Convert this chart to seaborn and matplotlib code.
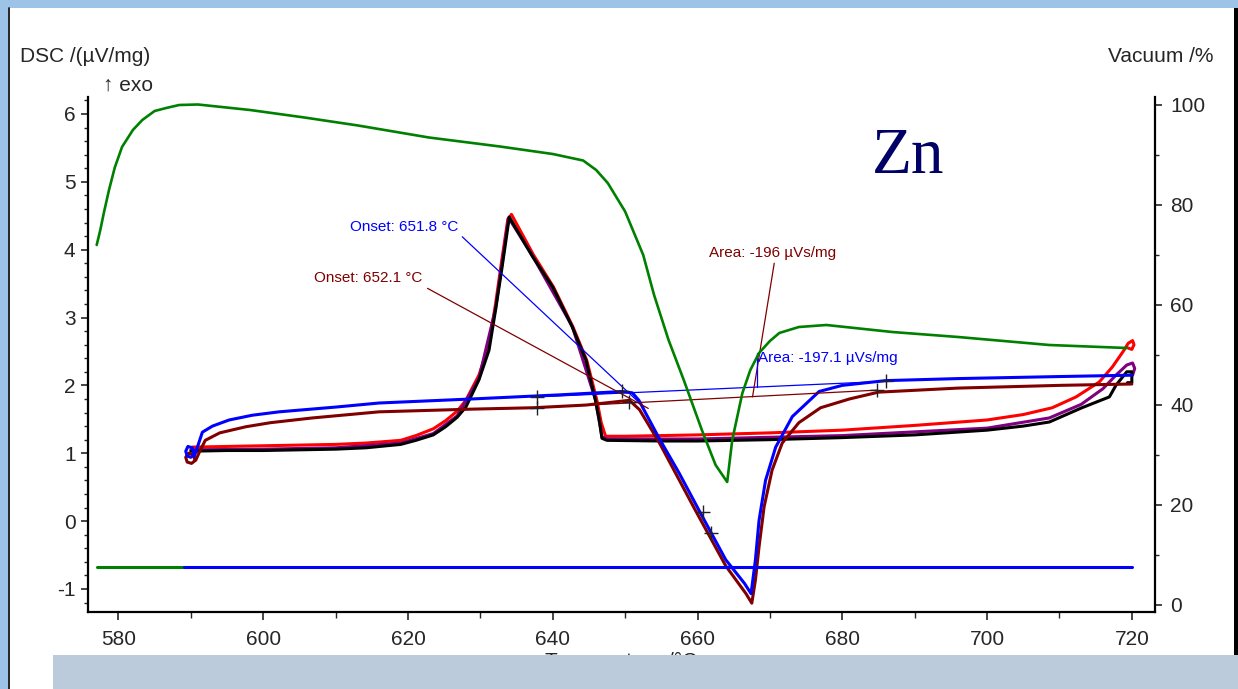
import numpy as np
import pandas as pd
import matplotlib
matplotlib.use('Agg')
import matplotlib.pyplot as plt
import seaborn as sns
from matplotlib.patches import Rectangle
from matplotlib.lines import Line2D
from matplotlib.ticker import MultipleLocator

# --- DSC curves (temperature in degC, DSC in uV/mg) ---
red_t = [590.2, 595, 600, 605, 610, 614.2, 619, 621.1, 623.5, 625.2, 626.8, 628.0, 629.8, 631.2,
         632.1, 632.9, 633.8, 634.3, 637.3, 640.1, 642.8, 644.7, 646.1, 646.7, 647.3, 650, 655,
         660, 670, 680, 690, 700, 705, 709, 712.3, 715.5, 717.3, 718.8, 719.5, 720.1, 720.3,
         720.0, 719.5]
red_v = [1.09, 1.10, 1.11, 1.12, 1.13, 1.15, 1.19, 1.26, 1.36, 1.48, 1.62, 1.78, 2.15, 2.60,
         3.20, 3.80, 4.45, 4.52, 3.93, 3.45, 2.86, 2.37, 1.78, 1.45, 1.25, 1.25, 1.26,
         1.27, 1.30, 1.34, 1.41, 1.49, 1.57, 1.67, 1.83, 2.05, 2.27, 2.50, 2.62, 2.66, 2.60,
         2.53, 2.55]

prp_t = [590.0, 600, 610, 619, 623.5, 626.8, 629.8, 632.1, 633.9, 637.2, 642.7, 645.9, 646.8,
         647.5, 660, 680, 700, 708.6, 713, 716, 717.8, 719.3, 720.1, 720.4, 720.1]
prp_v = [1.05, 1.06, 1.08, 1.15, 1.29, 1.55, 2.10, 3.13, 4.47, 3.91, 2.87, 1.79, 1.24,
         1.21, 1.21, 1.26, 1.37, 1.52, 1.72, 1.95, 2.15, 2.30, 2.33, 2.25, 2.15]

blk_t = [590.0, 595, 600, 605, 610, 614.2, 619, 621.1, 623.5, 625.2, 626.8, 628.0, 629.8, 631.2,
         632.1, 633.0, 634.0, 637.2, 640.0, 642.7, 644.6, 645.9, 646.5, 646.8, 647.5, 655, 660,
         670, 680, 690, 700, 705, 708.6, 713.1, 716.9, 717.8, 719.3, 720.0, 720.0, 719.4]
blk_v = [1.03, 1.04, 1.04, 1.05, 1.06, 1.08, 1.13, 1.19, 1.27, 1.39, 1.53, 1.68, 2.08, 2.52,
         3.11, 3.74, 4.48, 3.90, 3.45, 2.86, 2.37, 1.78, 1.45, 1.22, 1.19, 1.18, 1.18,
         1.20, 1.23, 1.27, 1.34, 1.40, 1.46, 1.67, 1.83, 2.00, 2.20, 2.20, 2.04, 2.04]

mrn_t = [590.6, 590.3, 589.7, 589.3, 589.5, 590.1, 590.7, 591.2, 592.0, 594.0, 597.6, 601, 606.8,
         616, 628.9, 637.2, 644.6, 650.6, 652.0, 654.7, 659.6, 663.9, 666.7, 667.5, 668.0, 668.5,
         669.2, 670.3, 671.7, 674.0, 677.0, 681, 685, 696, 710, 720]
mrn_v = [0.90, 0.98, 1.00, 0.94, 0.87, 0.85, 0.90, 1.02, 1.19, 1.30, 1.39, 1.45, 1.52,
         1.61, 1.65, 1.67, 1.71, 1.78, 1.64, 1.16, 0.18, -0.66, -1.07, -1.21, -0.87, -0.38,
         0.21, 0.75, 1.15, 1.45, 1.67, 1.80, 1.90, 1.96, 2.00, 2.02]

blu_t = [590.5, 590.2, 589.6, 589.3, 589.5, 590.0, 590.6, 591.1, 591.6, 593.0, 595.3, 598.5,
         602.2, 610, 616, 628.9, 640.9, 649.6, 651.0, 651.9, 654.7, 657.5, 660.2, 663.9, 666.5,
         667.4, 668.0, 668.5, 669.4, 670.8, 673.1, 676.8, 680, 686, 696, 710, 720]
blu_v = [0.96, 1.08, 1.10, 1.03, 0.96, 0.94, 0.99, 1.15, 1.31, 1.40, 1.49, 1.56,
         1.61, 1.68, 1.74, 1.80, 1.86, 1.91, 1.89, 1.78, 1.22, 0.70, 0.16, -0.57, -0.92,
         -1.07, -0.57, 0.01, 0.60, 1.09, 1.54, 1.91, 2.00, 2.07, 2.10, 2.13, 2.15]

# flat reference line near the bottom
flat_green_t = [577, 589]
flat_blue_t = [589, 720]
flat_level = -0.68

# --- Vacuum (%) ---
vac_t = [577.0, 577.5, 578.0, 578.7, 579.5, 580.5, 582, 583.3, 585, 586.6, 588.4, 591, 592.3,
         598.2, 605.7, 613.1, 622.9, 632.7, 640, 644.2, 646, 647.6, 650.0, 652.5, 654.0, 656,
         658.1, 660.6, 662.5, 664.1, 664.8, 666.2, 667.3, 668.5, 670, 671.3, 674.0, 677.8,
         686.9, 696.0, 708.6, 719.3]
vac_v = [72, 75, 78.5, 83, 87.5, 91.6, 95, 97, 98.8, 99.4, 100, 100.1, 99.9,
         99.0, 97.5, 95.9, 93.5, 91.7, 90.2, 88.9, 87, 84.4, 78.7, 70, 62, 53,
         45, 35, 28, 24.6, 33, 42.4, 47, 50.4, 52.8, 54.4, 55.6, 56,
         54.6, 53.6, 52, 51.4]

# --- evaluation marks ---
blu_mark_t = [637.8, 649.6, 660.7, 686.0]
blu_mark_v = [1.83, 1.92, 0.14, 2.06]
mrn_mark_t = [637.8, 650.6, 661.8, 684.8]
mrn_mark_v = [1.67, 1.75, -0.18, 1.93]

onset_blue_label = 'Onset: 651.8 °C'
onset_mrn_label = 'Onset: 652.1 °C'
area_mrn_label = 'Area: -196 µVs/mg'
area_blue_label = 'Area: -197.1 µVs/mg'

C_BLUE = '#0000ff'
C_MRN = '#800000'
C_RED = '#ff0000'
C_PRP = '#800080'
C_GRN = '#008000'

sns.set_style('ticks')
plt.rcParams['font.family'] = ['Liberation Sans', 'DejaVu Sans']
plt.rcParams['axes.unicode_minus'] = False

W, H = 1238, 689
fig = plt.figure(figsize=(W / 100, H / 100), dpi=100)
fig.patch.set_facecolor('#9dc3e6')
# white window of the screenshot
fig.add_artist(Rectangle((8 / W, 0), (1234 - 8) / W, 1 - 8 / H, transform=fig.transFigure,
                         facecolor='white', edgecolor='none', zorder=-5))
fig.add_artist(Line2D([8.5 / W, 8.5 / W], [0, 1 - 8 / H], transform=fig.transFigure,
                      color='black', lw=1.2, zorder=-4))
fig.add_artist(Rectangle((1234 / W, 0), 4 / W, 1 - 8 / H, transform=fig.transFigure,
                         facecolor='black', edgecolor='none', zorder=-4))

ax = fig.add_axes([88 / W, 1 - 612 / H, (1155 - 88) / W, (612 - 97) / H])
ax.set_facecolor('none')
ax2 = ax.twinx()

lw = 2.2
sns.lineplot(x=red_t, y=red_v, ax=ax, color=C_RED, lw=lw, sort=False, estimator=None)
sns.lineplot(x=prp_t, y=prp_v, ax=ax, color=C_PRP, lw=lw, sort=False, estimator=None)
sns.lineplot(x=blk_t, y=blk_v, ax=ax, color='black', lw=lw, sort=False, estimator=None)
sns.lineplot(x=mrn_t, y=mrn_v, ax=ax, color=C_MRN, lw=lw, sort=False, estimator=None)
sns.lineplot(x=blu_t, y=blu_v, ax=ax, color=C_BLUE, lw=lw, sort=False, estimator=None)
sns.lineplot(x=flat_green_t, y=[flat_level] * 2, ax=ax, color=C_GRN, lw=lw, estimator=None)
sns.lineplot(x=flat_blue_t, y=[flat_level] * 2, ax=ax, color=C_BLUE, lw=lw, estimator=None)

# evaluation lines
ax.plot([blu_mark_t[0], blu_mark_t[3]], [blu_mark_v[0], blu_mark_v[3]], color=C_BLUE, lw=0.9)
ax.plot([mrn_mark_t[0], mrn_mark_t[3]], [mrn_mark_v[0], mrn_mark_v[3]], color=C_MRN, lw=0.9)
ax.plot([627.5, 652.6], [4.19, 1.68], color=C_BLUE, lw=0.9)
ax.plot([622.7, 653.2], [3.43, 1.66], color=C_MRN, lw=0.9)
ax.plot([670.6, 667.6], [3.80, 1.83], color=C_MRN, lw=0.9)
ax.plot([668.2, 668.2], [2.48, 1.98], color=C_BLUE, lw=0.9)
ax.plot(blu_mark_t, blu_mark_v, ls='none', marker='+', ms=10, mew=1.0, color='#222222')
ax.plot(mrn_mark_t, mrn_mark_v, ls='none', marker='+', ms=10, mew=1.0, color='#222222')

ax.text(612.0, 4.33, onset_blue_label, color=C_BLUE, fontsize=11, va='center', ha='left')
ax.text(607.0, 3.58, onset_mrn_label, color=C_MRN, fontsize=11, va='center', ha='left')
ax.text(661.6, 3.95, area_mrn_label, color=C_MRN, fontsize=11, va='center', ha='left')
ax.text(668.4, 2.40, area_blue_label, color=C_BLUE, fontsize=11, va='center', ha='left')
ax.text(689.1, 5.36, 'Zn', color='#000066', fontsize=47, family='Liberation Serif',
        va='center', ha='center')

sns.lineplot(x=vac_t, y=vac_v, ax=ax2, color=C_GRN, lw=1.9, sort=False, estimator=None)

ax.set_xlim(575.8, 723.2)
ax.set_ylim(-1.34, 6.25)
ax2.set_ylim(-1.4, 101.6)

ax.xaxis.set_major_locator(MultipleLocator(20))
ax.xaxis.set_minor_locator(MultipleLocator(10))
ax.yaxis.set_major_locator(MultipleLocator(1))
ax.yaxis.set_minor_locator(MultipleLocator(0.2))
ax2.yaxis.set_major_locator(MultipleLocator(20))
ax2.yaxis.set_minor_locator(MultipleLocator(10))

for a in (ax, ax2):
    a.spines['top'].set_visible(False)
    for s in a.spines.values():
        s.set_linewidth(1.6)
        s.set_color('black')
ax.spines['right'].set_visible(False)
ax2.spines['left'].set_visible(False)
ax2.spines['bottom'].set_visible(False)

ax.tick_params(axis='x', which='major', length=6, width=1.2, labelsize=15, pad=7)
ax.tick_params(axis='x', which='minor', length=4, width=1.0)
ax.tick_params(axis='y', which='major', length=5, width=1.2, labelsize=15, pad=4)
ax.tick_params(axis='y', which='minor', length=3, width=1.0)
ax2.tick_params(axis='y', which='major', length=5, width=1.2, labelsize=15, pad=6)
ax2.tick_params(axis='y', which='minor', length=3, width=1.0)
ax.set_xlabel('')
ax.set_ylabel('')
ax2.set_ylabel('')

fig.text(20 / W, 1 - 57 / H, 'DSC /(µV/mg)', fontsize=15, ha='left', va='center')
fig.text(103 / W, 1 - 85 / H, '↑ exo', fontsize=15, ha='left', va='center')
fig.text(1213 / W, 1 - 57 / H, 'Vacuum /%', fontsize=15, ha='right', va='center')
fig.text(621 / W, 1 - 667 / H, 'Temperature /°C', fontsize=15, ha='center', va='baseline')

# slide overlay hiding the lower part of the screenshot
fig.add_artist(Rectangle((53 / W, 0), 1 - 53 / W, 1 - 655 / H, transform=fig.transFigure,
                         facecolor='#bccbdb', edgecolor='none', zorder=10))

fig.savefig('out.png', dpi=100, facecolor=fig.get_facecolor())
